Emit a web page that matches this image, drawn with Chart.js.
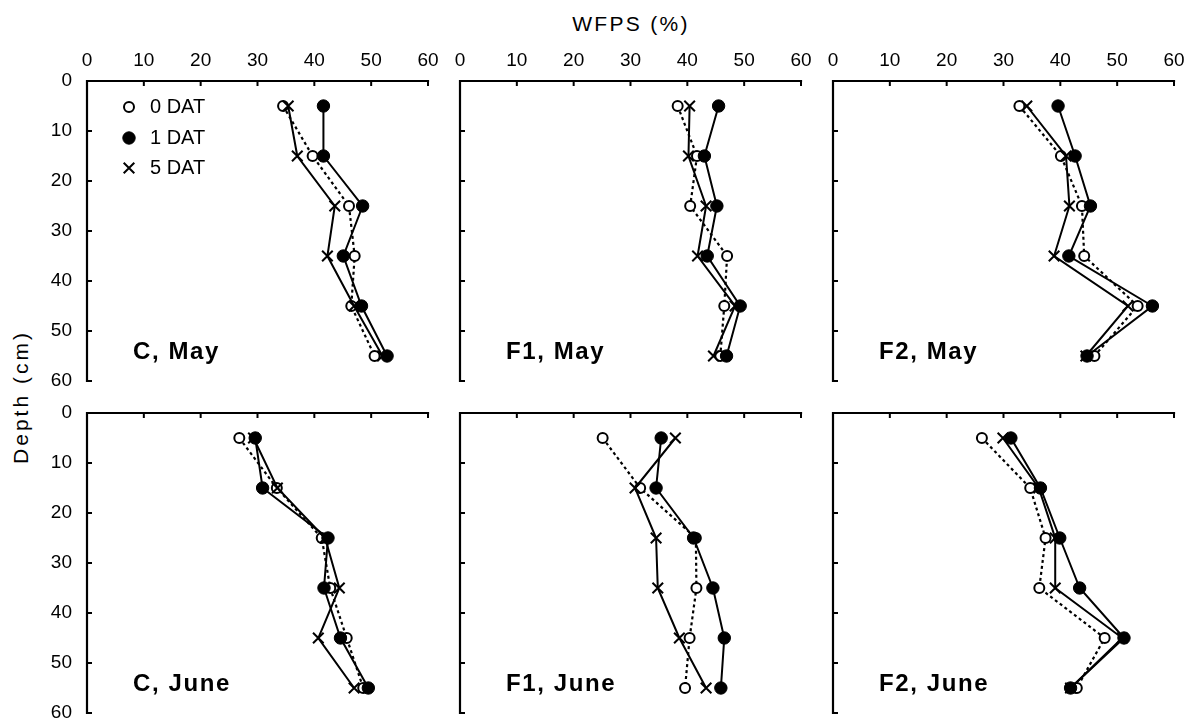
<!DOCTYPE html>
<html>
<head>
<meta charset="utf-8">
<script src="https://cdn.jsdelivr.net/npm/chart.js@4.4.1/dist/chart.umd.min.js"></script>
<style>
  html, body { margin: 0; padding: 0; background: #fff; overflow: hidden; }
  #wrap { position: relative; width: 1191px; height: 723px; }
  #wrap canvas { position: absolute; }
  .axis-title {
    position: absolute;
    font-family: "Liberation Sans", Arial, sans-serif;
    color: #000;
    white-space: nowrap;
  }
  #x-title { left: 631px; top: 24px; font-size: 21px; letter-spacing: 2.3px; transform: translate(-50%, -50%); }
  #y-title { left: 21px; top: 397px; font-size: 21px; letter-spacing: 3px; transform: translate(-50%, -50%) rotate(-90deg); }
</style>
</head>
<body>
<div id="wrap">
  <div class="axis-title" id="x-title">WFPS (%)</div>
  <div class="axis-title" id="y-title">Depth (cm)</div>
</div>
<script>
/* ---- data --------------------------------------------------------- */
const DEPTHS       = [5, 15, 25, 35, 45, 55];
const SERIES_NAMES = ["0 DAT", "1 DAT", "5 DAT"];
const X_TICKS      = [0, 10, 20, 30, 40, 50, 60];
const Y_TICKS      = [0, 10, 20, 30, 40, 50, 60];
const PANEL_NAMES  = ["C, May", "F1, May", "F2, May", "C, June", "F1, June", "F2, June"];

/* WFPS (%) per depth; rows are 0 DAT, 1 DAT, 5 DAT */
const C_MAY   = [[34.5, 39.7, 46.1, 47.1, 46.5, 50.6],
                 [41.6, 41.6, 48.5, 45.1, 48.3, 52.8],
                 [35.4, 37.0, 43.6, 42.3, 47.0, 52.0]];
const F1_MAY  = [[38.3, 41.7, 40.5, 47.0, 46.5, 45.8],
                 [45.5, 43.0, 45.2, 43.5, 49.3, 46.9],
                 [40.4, 40.2, 43.3, 41.8, 48.4, 44.6]];
const F2_MAY  = [[32.8, 40.1, 43.8, 44.2, 53.6, 46.0],
                 [39.6, 42.6, 45.3, 41.5, 56.2, 44.7],
                 [34.1, 41.0, 41.6, 38.9, 51.9, 44.5]];
const C_JUNE  = [[26.8, 33.4, 41.3, 42.8, 45.7, 48.6],
                 [29.6, 30.9, 42.4, 41.7, 44.6, 49.5],
                 [29.3, 33.5, 41.9, 44.4, 40.7, 47.0]];
const F1_JUNE = [[25.1, 31.7, 41.5, 41.6, 40.4, 39.6],
                 [35.4, 34.5, 41.1, 44.5, 46.5, 45.9],
                 [37.9, 30.8, 34.5, 34.8, 38.6, 43.3]];
const F2_JUNE = [[26.2, 34.7, 37.4, 36.3, 47.8, 42.9],
                 [31.3, 36.5, 39.9, 43.4, 51.2, 41.8],
                 [29.9, 36.2, 39.1, 39.1, 50.9, 41.8]];

const PANEL_DATA = [C_MAY, F1_MAY, F2_MAY, C_JUNE, F1_JUNE, F2_JUNE];

/* ---- layout / style ----------------------------------------------- */
const FONT       = "'Liberation Sans', Arial, sans-serif";
const COL_LEFT   = [87, 460, 833];
const ROW_TOP    = [81, 413];
const PLOT_W     = 341;
const PLOT_H     = 300;
const Y_AXIS_W   = 60;
const X_AXIS_H   = 40;
const PAD        = 20;
const TICK_LEN   = 5;

const STYLES = [
  { borderWidth: 2.2, borderDash: [3, 3],     pointStyle: "circle",   pointRadius: 5,
    pointBackgroundColor: "#fff", pointBorderWidth: 2,   order: 2 },
  { borderWidth: 2,   borderDash: [],         pointStyle: "circle",   pointRadius: 6.2,
    pointBackgroundColor: "#000", pointBorderWidth: 1,   order: 0 },
  { borderWidth: 2,   borderDash: [],         pointStyle: "crossRot", pointRadius: 7.5,
    pointBackgroundColor: "#000", pointBorderWidth: 2,   order: 1 },
];

/* top + left axis lines with inward ticks, placed by the scales */
const frame = {
  id: "frame",
  afterDraw(chart) {
    const { ctx, scales: { x, y } } = chart;
    const top    = y.getPixelForValue(Y_TICKS[0]);
    const bottom = y.getPixelForValue(Y_TICKS[Y_TICKS.length - 1]);
    const left   = x.getPixelForValue(X_TICKS[0]);
    const right  = x.getPixelForValue(X_TICKS[X_TICKS.length - 1]);
    ctx.save();
    ctx.strokeStyle = "#000";
    ctx.lineWidth = 2.2;
    ctx.lineCap = "square";
    ctx.beginPath();
    ctx.moveTo(right, top);
    ctx.lineTo(left, top);
    ctx.lineTo(left, bottom);
    ctx.stroke();
    ctx.lineWidth = 2;
    ctx.lineCap = "butt";
    ctx.beginPath();
    X_TICKS.forEach((v) => {
      const px = x.getPixelForValue(v);
      ctx.moveTo(px, top);
      ctx.lineTo(px, top + TICK_LEN);
    });
    Y_TICKS.forEach((v) => {
      const py = y.getPixelForValue(v);
      ctx.moveTo(left, py);
      ctx.lineTo(left + TICK_LEN, py);
    });
    ctx.stroke();
    ctx.restore();
  },
};

/* panel caption, bottom-left inside the plot */
const panelLabel = {
  id: "panelLabel",
  afterDraw(chart, args, opts) {
    const { ctx, chartArea } = chart;
    ctx.save();
    ctx.font = "bold 24px " + FONT;
    ctx.letterSpacing = "1.6px";
    ctx.fillStyle = "#000";
    ctx.textBaseline = "middle";
    ctx.fillText(opts.text, chartArea.left + 46, chartArea.top + 271);
    ctx.restore();
  },
};

/* legend inside the first panel */
const innerLegend = {
  id: "innerLegend",
  afterDraw(chart, args, opts) {
    if (!opts.show) return;
    const { ctx, chartArea } = chart;
    const rows = [26, 57, 87];
    ctx.save();
    ctx.font = "20px " + FONT;
    ctx.textBaseline = "middle";
    chart.data.datasets.forEach((ds, i) => {
      const cx = chartArea.left + 42;
      const cy = chartArea.top + rows[i];
      ctx.fillStyle = ds.pointBackgroundColor;
      ctx.strokeStyle = "#000";
      ctx.lineWidth = ds.pointBorderWidth;
      ctx.beginPath();
      if (ds.pointStyle === "circle") {
        ctx.arc(cx, cy, ds.pointRadius, 0, Math.PI * 2);
        ctx.fill();
        ctx.stroke();
      } else {
        const r = ds.pointRadius * Math.SQRT1_2;
        ctx.moveTo(cx - r, cy - r); ctx.lineTo(cx + r, cy + r);
        ctx.moveTo(cx - r, cy + r); ctx.lineTo(cx + r, cy - r);
        ctx.stroke();
      }
      ctx.fillStyle = "#000";
      ctx.fillText(ds.label, chartArea.left + 63, cy);
    });
    ctx.restore();
  },
};

function axisCommon(ticksList, showLabels, pad) {
  return {
    type: "linear",
    min: 0, max: 60,
    afterBuildTicks: (s) => { s.ticks = ticksList.map((v) => ({ value: v })); },
    grid:   { display: false, drawTicks: false },
    border: { display: false },
    ticks:  { display: showLabels, color: "#000", padding: pad, maxRotation: 0, autoSkip: false,
              font: { family: FONT, size: 19 } },
  };
}

/* ---- build the six panels ----------------------------------------- */
const wrap = document.getElementById("wrap");

PANEL_DATA.forEach((rowsData, p) => {
  const col = p % 3, row = Math.floor(p / 3);
  const canvas = document.createElement("canvas");
  canvas.width  = Y_AXIS_W + PLOT_W + PAD;
  canvas.height = X_AXIS_H + PLOT_H + PAD;
  canvas.style.left = (COL_LEFT[col] - Y_AXIS_W) + "px";
  canvas.style.top  = (ROW_TOP[row] - X_AXIS_H) + "px";
  wrap.appendChild(canvas);

  const datasets = rowsData.map((vals, s) => Object.assign({
    label: SERIES_NAMES[s],
    data: DEPTHS.map((d, i) => ({ x: vals[i], y: d })),
    showLine: true,
    tension: 0,
    borderColor: "#000",
    pointBorderColor: "#000",
  }, STYLES[s]));

  const xAxis = axisCommon(X_TICKS, row === 0, 9);
  xAxis.position = "top";
  xAxis.afterFit = (s) => { s.height = X_AXIS_H; s.paddingLeft = 0; s.paddingRight = 0; };

  const yAxis = axisCommon(Y_TICKS, col === 0, 15);
  yAxis.position = "left";
  yAxis.reverse = true;
  yAxis.afterFit = (s) => { s.width = Y_AXIS_W; s.paddingTop = 0; s.paddingBottom = 0; };

  new Chart(canvas.getContext("2d"), {
    type: "scatter",
    data: { datasets },
    options: {
      responsive: false,
      animation: false,
      devicePixelRatio: 1,
      events: [],
      layout: { padding: { left: 0, top: 0, right: PAD, bottom: PAD } },
      plugins: {
        legend: { display: false },
        tooltip: { enabled: false },
        panelLabel: { text: PANEL_NAMES[p] },
        innerLegend: { show: p === 0 },
      },
      scales: { x: xAxis, y: yAxis },
    },
    plugins: [frame, panelLabel, innerLegend],
  });
});
</script>
</body>
</html>
